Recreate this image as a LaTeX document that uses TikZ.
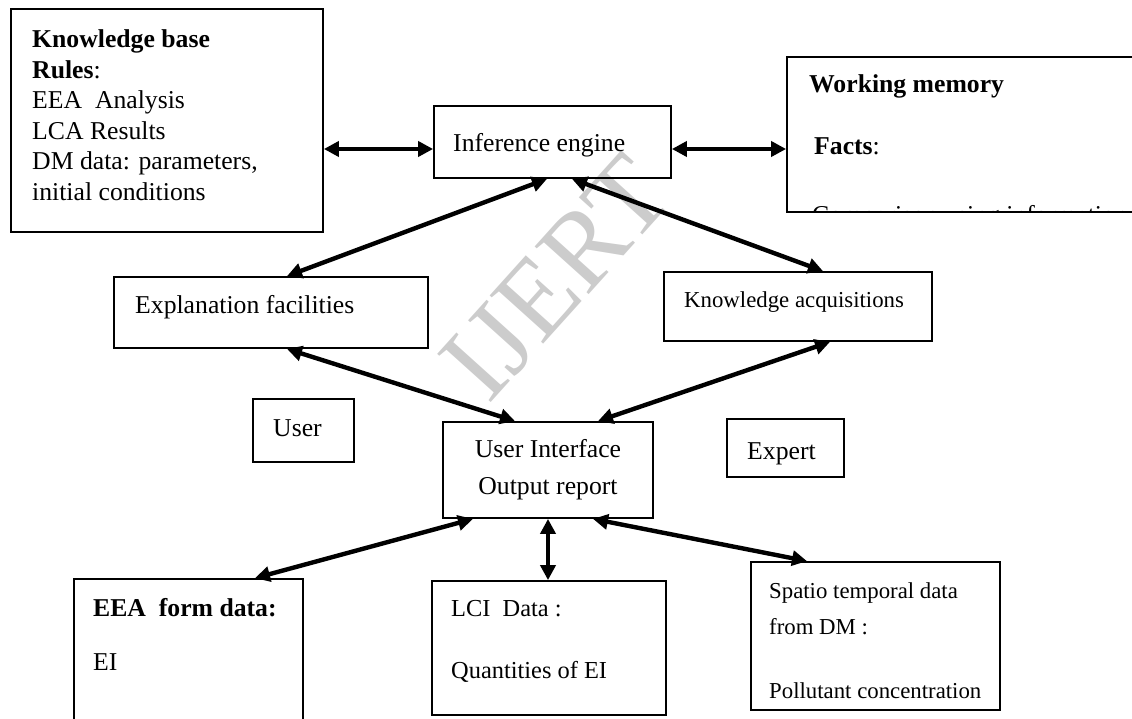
\documentclass[tikz,border=0pt]{standalone}
\usepackage{fontspec}
\setmainfont{Liberation Serif}
\usetikzlibrary{arrows.meta,calc}
\begin{document}
\begin{tikzpicture}[x=1pt,y=-1pt,
  box/.style={draw,line width=1.8pt,inner sep=0pt},
  txt/.style={inner sep=0pt,anchor=base west,font=\fontsize{25.7}{30}\selectfont},
  stxt/.style={txt,font=\fontsize{22.8}{27}\selectfont},
  mtxt/.style={txt,font=\fontsize{24.4}{29}\selectfont},
  link/.style={line width=4.4pt,{Triangle[length=15pt,width=15pt]}-{Triangle[length=15pt,width=15pt]}}]
\useasboundingbox (0,0) rectangle (1132,719);
\clip (0,0) rectangle (1132,719);
% watermark
\node[rotate=48,inner sep=0pt,text=black!20,font=\fontsize{110}{110}\selectfont] (wmark) at (556,278) {IJERT};
% boxes
\node[box,minimum width=312pt,minimum height=223pt] (kb) at (167,120.5) {};
\node[box,minimum width=237pt,minimum height=72pt] (ie) at (552.5,142) {};
\node[box,minimum width=353pt,minimum height=155pt] (wm) at (963.5,134.5) {};
\node[box,minimum width=314pt,minimum height=71pt] (ef) at (271,312.5) {};
\node[box,minimum width=268pt,minimum height=69pt] (ka) at (798,306.5) {};
\node[box,minimum width=101pt,minimum height=63pt] (user) at (303.5,430.5) {};
\node[box,minimum width=210pt,minimum height=96pt] (ui) at (548,470) {};
\node[box,minimum width=117pt,minimum height=58pt] (expert) at (785.5,448) {};
\node[box,minimum width=229pt,minimum height=151pt] (eea) at (188.5,654.5) {};
\node[box,minimum width=234pt,minimum height=134pt] (lci) at (549,648) {};
\node[box,minimum width=249pt,minimum height=148pt] (sp) at (875.5,636) {};
% texts
\node[txt] (kb1) at (32,48) {\textbf{Knowledge base}};
\node[txt] (kb2) at (32,79) {\textbf{Rules}:};
\node[txt] (kb3) at (32,109) {EEA\ \ Analysis};
\node[txt] (kb4) at (32,140) {LCA Results};
\node[txt] (kb5) at (32,170) {DM data: parameters,};
\node[txt] (kb6) at (32,201) {initial conditions};
\node[txt] (ie1) at (453,152) {Inference engine};
\node[txt] (wm1) at (809,93) {\textbf{Working memory}};
\node[txt] (wm2) at (814,155) {\textbf{Facts}:};
\begin{scope}
  \clip (789,59) rectangle (1132,210.5);
  \node[txt] (wm3) at (812,224) {Comparison using information};
\end{scope}
\node[txt] (ef1) at (135,313) {Explanation facilities};
\node[stxt] (ka1) at (684,307) {Knowledge acquisitions};
\node[txt] (user1) at (273,436) {User};
\node[txt,anchor=base] (ui1) at (548,457) {User Interface};
\node[txt,anchor=base] (ui2) at (548,494) {Output report};
\node[txt] (ex1) at (747,459) {Expert};
\node[txt] (eea1) at (93,616) {\textbf{EEA\ \ form data:}};
\node[txt] (eea2) at (93,670) {EI};
\node[mtxt] (lci1) at (451,616) {LCI\ \ Data :};
\node[mtxt] (lci2) at (451,678) {Quantities of EI};
\node[stxt] (sp1) at (769,598) {Spatio temporal data};
\node[stxt] (sp2) at (769,634) {from DM :};
\node[stxt] (sp3) at (769,698) {Pollutant concentration};
% connectors
\draw[link] ([yshift=-28.5pt]kb.east) -- ([yshift=-7pt]ie.west);
\draw[link] ([yshift=-7pt]ie.east) -- ([yshift=-14.5pt]wm.west);
\draw[link] ([xshift=-5.5pt]ie.south) -- ([xshift=16pt]ef.north);
\draw[link] ([xshift=19.5pt]ie.south) -- ([xshift=25pt]ka.north);
\draw[link] ([xshift=16pt]ef.south) -- ([xshift=-33pt]ui.north);
\draw[link] ([xshift=32pt]ka.south) -- ([xshift=50pt]ui.north);
\draw[link] ([xshift=-75pt]ui.south) -- ([xshift=66.5pt]eea.north);
\draw[link] (ui.south) -- (ui.south |- lci.north);
\draw[link] ([xshift=45pt]ui.south) -- ([xshift=-68.5pt]sp.north);
\end{tikzpicture}
\end{document}
